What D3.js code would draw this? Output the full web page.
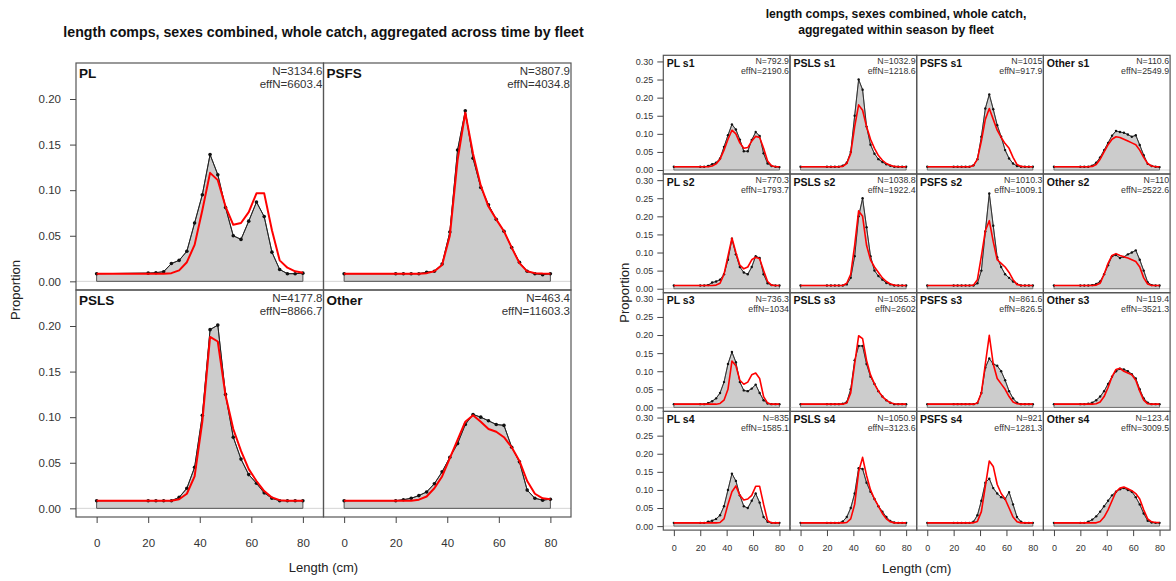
<!DOCTYPE html>
<html>
<head>
<meta charset="utf-8">
<script src="https://cdn.jsdelivr.net/npm/d3@7"></script>
<style>
  body { margin: 0; background: #fff; }
  svg { display: block; font-family: "Liberation Sans", Arial, sans-serif; }
</style>
</head>
<body>
<script>
// length bins (cm)
const bins = [0, 20, 23, 26, 29, 32, 35, 38, 41, 44, 47, 50, 53, 56, 59, 62, 65, 68, 71, 74, 77, 80];
const xTicks = [0, 20, 40, 60, 80];

// ---- left: aggregated across time by fleet ----
const fleetsAll = ['PL', 'PSFS', 'PSLS', 'Other'];
const nAll = ['3134.6', '3807.9', '4177.8', '463.4'];
const effNAll = ['6603.4', '4034.8', '8866.7', '11603.3'];
const obsPL = [0.0084,0.009,0.0095,0.0106,0.0195,0.023,0.033,0.064,0.095,0.139,0.117,0.081,0.050,0.046,0.066,0.087,0.071,0.032,0.013,0.0084,0.0084,0.009];
const expPL = [0.0084,0.0084,0.0084,0.0084,0.009,0.012,0.021,0.040,0.078,0.119,0.111,0.082,0.062,0.064,0.076,0.0965,0.0965,0.056,0.023,0.015,0.011,0.0095];
const obsPSFS = [0.0084,0.0084,0.0084,0.0084,0.0084,0.010,0.011,0.019,0.054,0.144,0.187,0.135,0.103,0.084,0.068,0.055,0.037,0.021,0.011,0.0084,0.0073,0.0084];
const expPSFS = [0.0084,0.0084,0.0084,0.0084,0.0084,0.009,0.011,0.018,0.050,0.133,0.185,0.140,0.105,0.082,0.068,0.055,0.037,0.020,0.011,0.009,0.0085,0.0084];
const obsPSLS = [0.0084,0.0084,0.0084,0.0084,0.0084,0.012,0.022,0.045,0.102,0.196,0.201,0.125,0.078,0.054,0.037,0.0275,0.017,0.011,0.0084,0.0084,0.0084,0.0084];
const expPSLS = [0.0084,0.0084,0.0084,0.0084,0.0084,0.010,0.016,0.035,0.095,0.188,0.183,0.124,0.087,0.063,0.043,0.030,0.019,0.012,0.009,0.0084,0.0084,0.0084];
const obsOther = [0.0084,0.0084,0.0095,0.011,0.014,0.018,0.027,0.040,0.056,0.071,0.092,0.103,0.100,0.096,0.092,0.091,0.067,0.051,0.020,0.011,0.009,0.010];
const expOther = [0.0084,0.0084,0.0084,0.0084,0.0095,0.013,0.022,0.035,0.055,0.075,0.095,0.102,0.095,0.087,0.084,0.078,0.067,0.052,0.030,0.016,0.011,0.010];

// ---- right: within season by fleet (rows = seasons 1..4) ----
const fleetsSeason = ['PL', 'PSLS', 'PSFS', 'Other'];
const seasons = ['s1', 's2', 's3', 's4'];
const nSeason = [
  ['792.9', '1032.9', '1015', '110.6'],
  ['770.3', '1038.8', '1010.3', '110'],
  ['736.3', '1055.3', '861.6', '119.4'],
  ['835', '1050.9', '921', '123.4']
];
const effNSeason = [
  ['2190.6', '1218.6', '917.9', '2549.9'],
  ['1793.7', '1922.4', '1009.1', '2522.6'],
  ['1034', '2602', '826.5', '3521.3'],
  ['1585.1', '3123.6', '1281.3', '3009.5']
];
const obsPLSeason = [
  [0.009,0.009,0.009,0.011,0.016,0.020,0.032,0.064,0.096,0.126,0.112,0.084,0.052,0.052,0.083,0.105,0.094,0.046,0.018,0.011,0.009,0.008],
  [0.009,0.009,0.009,0.010,0.017,0.020,0.025,0.040,0.080,0.138,0.095,0.060,0.045,0.040,0.060,0.090,0.085,0.040,0.015,0.010,0.009,0.009],
  [0.009,0.009,0.009,0.012,0.017,0.025,0.040,0.070,0.120,0.153,0.125,0.070,0.047,0.045,0.052,0.063,0.040,0.020,0.011,0.009,0.009,0.009],
  [0.009,0.009,0.009,0.012,0.015,0.020,0.030,0.055,0.100,0.145,0.125,0.085,0.055,0.050,0.070,0.090,0.065,0.025,0.012,0.009,0.009,0.009]
];
const expPLSeason = [
  [0.009,0.009,0.009,0.009,0.011,0.017,0.030,0.055,0.085,0.110,0.100,0.075,0.060,0.062,0.080,0.093,0.090,0.060,0.025,0.012,0.009,0.009],
  [0.009,0.009,0.009,0.009,0.009,0.010,0.015,0.040,0.090,0.140,0.100,0.065,0.055,0.060,0.080,0.087,0.083,0.050,0.020,0.010,0.009,0.009],
  [0.009,0.009,0.009,0.009,0.009,0.009,0.011,0.020,0.050,0.128,0.115,0.075,0.064,0.070,0.090,0.095,0.080,0.030,0.012,0.009,0.009,0.009],
  [0.009,0.009,0.009,0.009,0.009,0.009,0.010,0.020,0.060,0.095,0.111,0.085,0.072,0.075,0.085,0.110,0.110,0.060,0.015,0.009,0.009,0.009]
];
const obsPSLSSeason = [
  [0.009,0.009,0.009,0.009,0.009,0.012,0.020,0.050,0.150,0.250,0.222,0.120,0.070,0.045,0.030,0.022,0.016,0.012,0.009,0.009,0.009,0.009],
  [0.009,0.009,0.009,0.009,0.009,0.009,0.012,0.030,0.090,0.200,0.250,0.170,0.090,0.050,0.035,0.025,0.016,0.012,0.009,0.009,0.009,0.009],
  [0.009,0.009,0.009,0.009,0.009,0.010,0.015,0.050,0.130,0.170,0.170,0.120,0.085,0.065,0.045,0.030,0.020,0.013,0.009,0.009,0.009,0.009],
  [0.009,0.009,0.009,0.009,0.009,0.013,0.025,0.050,0.090,0.160,0.158,0.120,0.095,0.075,0.055,0.040,0.025,0.014,0.010,0.009,0.009,0.009]
];
const expPSLSSeason = [
  [0.009,0.009,0.009,0.009,0.009,0.010,0.018,0.045,0.120,0.180,0.165,0.120,0.085,0.060,0.040,0.027,0.018,0.013,0.010,0.009,0.009,0.009],
  [0.009,0.009,0.009,0.009,0.009,0.009,0.015,0.040,0.120,0.215,0.200,0.120,0.080,0.060,0.045,0.030,0.020,0.013,0.010,0.009,0.009,0.009],
  [0.009,0.009,0.009,0.009,0.009,0.009,0.012,0.040,0.120,0.198,0.190,0.130,0.090,0.065,0.045,0.030,0.020,0.013,0.010,0.009,0.009,0.009],
  [0.009,0.009,0.009,0.009,0.009,0.009,0.010,0.020,0.060,0.150,0.190,0.140,0.100,0.075,0.055,0.035,0.020,0.012,0.009,0.009,0.009,0.009]
];
const obsPSFSSeason = [
  [0.009,0.009,0.009,0.009,0.009,0.009,0.013,0.030,0.092,0.170,0.209,0.168,0.124,0.092,0.055,0.032,0.018,0.011,0.009,0.009,0.009,0.009],
  [0.009,0.009,0.009,0.009,0.009,0.009,0.009,0.015,0.050,0.158,0.263,0.174,0.087,0.060,0.040,0.030,0.020,0.013,0.009,0.009,0.009,0.009],
  [0.009,0.009,0.009,0.009,0.009,0.009,0.009,0.012,0.040,0.110,0.135,0.120,0.115,0.100,0.075,0.045,0.025,0.013,0.009,0.009,0.009,0.009],
  [0.009,0.009,0.009,0.009,0.009,0.009,0.012,0.030,0.070,0.120,0.131,0.105,0.090,0.080,0.075,0.094,0.060,0.025,0.012,0.009,0.009,0.009]
];
const expPSFSSeason = [
  [0.009,0.009,0.009,0.009,0.009,0.009,0.012,0.030,0.080,0.140,0.170,0.140,0.110,0.090,0.073,0.060,0.035,0.015,0.010,0.009,0.009,0.009],
  [0.009,0.009,0.009,0.009,0.009,0.009,0.010,0.025,0.090,0.160,0.188,0.130,0.080,0.070,0.060,0.045,0.025,0.012,0.009,0.009,0.009,0.009],
  [0.009,0.009,0.009,0.009,0.009,0.009,0.009,0.012,0.040,0.120,0.199,0.120,0.080,0.065,0.050,0.030,0.015,0.010,0.009,0.009,0.009,0.009],
  [0.009,0.009,0.009,0.009,0.009,0.009,0.009,0.013,0.040,0.110,0.180,0.165,0.115,0.090,0.075,0.050,0.025,0.012,0.009,0.009,0.009,0.009]
];
const obsOtherSeason = [
  [0.009,0.009,0.009,0.009,0.012,0.020,0.035,0.055,0.075,0.095,0.108,0.105,0.103,0.098,0.092,0.096,0.069,0.041,0.017,0.011,0.009,0.008],
  [0.009,0.009,0.009,0.009,0.010,0.013,0.020,0.040,0.065,0.090,0.093,0.085,0.088,0.095,0.100,0.106,0.080,0.050,0.018,0.010,0.009,0.009],
  [0.009,0.009,0.009,0.010,0.013,0.020,0.030,0.045,0.065,0.085,0.100,0.107,0.105,0.100,0.092,0.080,0.050,0.025,0.013,0.009,0.009,0.009],
  [0.009,0.009,0.009,0.012,0.018,0.027,0.040,0.055,0.070,0.085,0.095,0.102,0.105,0.100,0.095,0.080,0.060,0.035,0.015,0.010,0.009,0.009]
];
const expOtherSeason = [
  [0.009,0.009,0.009,0.009,0.010,0.015,0.030,0.050,0.070,0.085,0.092,0.090,0.085,0.080,0.075,0.070,0.055,0.035,0.018,0.011,0.009,0.009],
  [0.009,0.009,0.009,0.009,0.009,0.010,0.015,0.040,0.070,0.092,0.097,0.092,0.088,0.085,0.080,0.075,0.060,0.030,0.013,0.009,0.009,0.009],
  [0.009,0.009,0.009,0.009,0.009,0.010,0.015,0.030,0.055,0.085,0.105,0.108,0.100,0.095,0.090,0.075,0.045,0.020,0.010,0.009,0.009,0.009],
  [0.009,0.009,0.009,0.009,0.009,0.009,0.013,0.025,0.045,0.070,0.095,0.105,0.108,0.103,0.098,0.090,0.075,0.045,0.020,0.012,0.010,0.010]
];

const W = 1176, H = 581;
const svg = d3.select('body').append('svg')
  .attr('width', W)
  .attr('height', H);

// panel grid drawer (one for each figure)
function drawGrid(cfg) {
  const g = svg.append('g');
  const x = d3.scaleLinear().domain([-8, 88]).range([0, cfg.colW]);
  const y = d3.scaleLinear().domain(cfg.ylim).range([cfg.rowH, 0]);
  const line = d3.line().x(d => x(d[0])).y(d => y(d[1]));

  cfg.panels.forEach(p => {
    const pg = g.append('g')
      .attr('transform', `translate(${cfg.left + p.col * cfg.colW},${cfg.top + p.row * cfg.rowH})`);

    pg.append('line')
      .attr('x1', 0).attr('x2', cfg.colW)
      .attr('y1', y(0)).attr('y2', y(0))
      .attr('stroke', '#d4d4d4');

    const obs = bins.map((b, i) => [b, p.obs[i]]);
    const poly = [[bins[0], 0]].concat(obs, [[bins[bins.length - 1], 0]]);
    pg.append('path')
      .attr('d', line(poly) + 'Z')
      .attr('fill', '#cccccc')
      .attr('stroke', '#555')
      .attr('stroke-width', cfg.polyW);

    pg.append('path')
      .attr('d', line(obs))
      .attr('fill', 'none')
      .attr('stroke', '#222')
      .attr('stroke-width', cfg.obsW);

    pg.selectAll('circle')
      .data(obs)
      .join('circle')
      .attr('cx', d => x(d[0]))
      .attr('cy', d => y(d[1]))
      .attr('r', cfg.dotR)
      .attr('fill', '#111');

    pg.append('path')
      .attr('d', line(bins.map((b, i) => [b, p.exp[i]])))
      .attr('fill', 'none')
      .attr('stroke', '#f00')
      .attr('stroke-width', cfg.expW)
      .attr('stroke-linejoin', 'round');

    pg.append('rect')
      .attr('width', cfg.colW).attr('height', cfg.rowH)
      .attr('fill', 'none')
      .attr('stroke', '#555')
      .attr('stroke-width', 1.2);

    pg.append('text')
      .attr('x', cfg.labDx).attr('y', cfg.labY)
      .attr('font-size', cfg.labSize)
      .attr('font-weight', 'bold')
      .attr('fill', '#111')
      .text(p.label);

    pg.append('text')
      .attr('x', cfg.colW - 1).attr('y', cfg.nY)
      .attr('text-anchor', 'end')
      .attr('font-size', cfg.nSize)
      .attr('fill', '#333')
      .text('N=' + p.n);

    pg.append('text')
      .attr('x', cfg.colW - 1).attr('y', cfg.effY)
      .attr('text-anchor', 'end')
      .attr('font-size', cfg.nSize)
      .attr('fill', '#333')
      .text('effN=' + p.effN);
  });

  // y axes on each row
  for (let r = 0; r < cfg.nRows; r++) {
    const ay = g.append('g')
      .attr('transform', `translate(${cfg.left},${cfg.top + r * cfg.rowH})`)
      .call(d3.axisLeft(y).tickValues(cfg.yTicks).tickFormat(d3.format('.2f')).tickSize(6).tickPadding(cfg.yPad));
    ay.select('.domain').remove();
    ay.selectAll('line').attr('stroke', '#444');
    ay.selectAll('text').attr('font-size', cfg.tickSize).attr('fill', '#333').attr('font-family', null);
  }

  // x axes on each column
  for (let c = 0; c < cfg.nCols; c++) {
    const ax = g.append('g')
      .attr('transform', `translate(${cfg.left + c * cfg.colW},${cfg.top + cfg.nRows * cfg.rowH})`)
      .call(d3.axisBottom(x).tickValues(xTicks).tickSize(6).tickPadding(cfg.xPad));
    ax.select('.domain').remove();
    ax.selectAll('line').attr('stroke', '#444');
    ax.selectAll('text').attr('font-size', cfg.tickSize).attr('fill', '#333').attr('font-family', null);
  }

  const w = cfg.nCols * cfg.colW, h = cfg.nRows * cfg.rowH;
  svg.append('text')
    .attr('x', cfg.left + w / 2).attr('y', cfg.xTitleY)
    .attr('text-anchor', 'middle')
    .attr('font-size', 13)
    .attr('fill', '#222')
    .text('Length (cm)');

  svg.append('text')
    .attr('transform', `translate(${cfg.yTitleX},${cfg.top + h / 2}) rotate(-90)`)
    .attr('text-anchor', 'middle')
    .attr('font-size', 13)
    .attr('fill', '#222')
    .text('Proportion');
}

// left figure
const leftObs = [obsPL, obsPSFS, obsPSLS, obsOther];
const leftExp = [expPL, expPSFS, expPSLS, expOther];
drawGrid({
  left: 76, top: 63, colW: 247.5, rowH: 227, nRows: 2, nCols: 2,
  ylim: [-0.0095, 0.2395], yTicks: [0, 0.05, 0.10, 0.15, 0.20],
  polyW: 1, obsW: 1, expW: 2, dotR: 1.8,
  labDx: 3, labY: 15, labSize: 13.5,
  nY: 12, effY: 25, nSize: 11.5,
  tickSize: 11.5, yPad: 9, xPad: 16, xTitleY: 572, yTitleX: 20,
  panels: fleetsAll.map((f, i) => ({
    row: Math.floor(i / 2), col: i % 2, label: f,
    n: nAll[i], effN: effNAll[i], obs: leftObs[i], exp: leftExp[i]
  }))
});

svg.append('text')
  .attr('x', 323.5).attr('y', 37)
  .attr('text-anchor', 'middle')
  .attr('font-size', 14.2)
  .attr('font-weight', 'bold')
  .attr('fill', '#111')
  .text('length comps, sexes combined, whole catch, aggregated across time by fleet');

// right figure
const seasonObs = [obsPLSeason, obsPSLSSeason, obsPSFSSeason, obsOtherSeason];
const seasonExp = [expPLSeason, expPSLSSeason, expPSFSSeason, expOtherSeason];
const rightPanels = [];
seasons.forEach((s, r) => {
  fleetsSeason.forEach((f, c) => {
    rightPanels.push({
      row: r, col: c, label: f + ' ' + s,
      n: nSeason[r][c], effN: effNSeason[r][c],
      obs: seasonObs[c][r], exp: seasonExp[c][r]
    });
  });
});
drawGrid({
  left: 663.3, top: 55.3, colW: 126.7, rowH: 118.7, nRows: 4, nCols: 4,
  ylim: [-0.011, 0.317], yTicks: [0, 0.05, 0.10, 0.15, 0.20, 0.25, 0.30],
  polyW: 0.8, obsW: 0.8, expW: 1.6, dotR: 1.2,
  labDx: 3.4, labY: 11.7, labSize: 10.5,
  nY: 9.2, effY: 19.2, nSize: 8.8,
  tickSize: 9, yPad: 4, xPad: 9, xTitleY: 573, yTitleX: 629,
  panels: rightPanels
});

svg.append('text')
  .attr('x', 896).attr('y', 18)
  .attr('text-anchor', 'middle')
  .attr('font-size', 12.2)
  .attr('font-weight', 'bold')
  .attr('fill', '#111')
  .text('length comps, sexes combined, whole catch,');
svg.append('text')
  .attr('x', 896).attr('y', 34)
  .attr('text-anchor', 'middle')
  .attr('font-size', 12.2)
  .attr('font-weight', 'bold')
  .attr('fill', '#111')
  .text('aggregated within season by fleet');
</script>
</body>
</html>
